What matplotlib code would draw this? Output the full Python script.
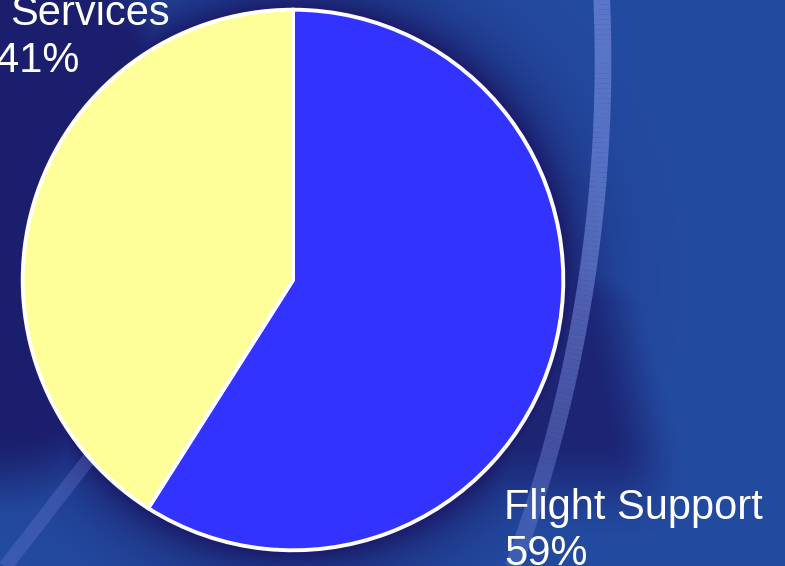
import numpy as np
import matplotlib
matplotlib.use("Agg")
import matplotlib.pyplot as plt
from matplotlib.collections import LineCollection

labels = ["Flight Support", "Services"]
shares = [59, 41]
colors = ["#3333ff", "#ffff99"]

W, H = 785, 566
fig = plt.figure(figsize=(W / 100, H / 100), dpi=100)


def smooth(v):
    v = np.clip(v, 0, 1)
    return v * v * (3 - 2 * v)


r = 273
cx, cy = 293, 280

# background: medium blue with a dark navy top-left, dark halo round the pie
# and a soft dark wedge to the right of it
bg = fig.add_axes([0, 0, 1, 1])
yy, xx = np.mgrid[0:H, 0:W].astype(float)
d_out = np.clip(np.hypot(xx - cx, yy - cy) - r, 0, None)
halo = np.exp(-d_out / 30)
tl = smooth((1 - np.hypot(xx / 240, (yy - 200) / 330)) / 0.3)
edge_x = np.interp(yy, [230, 300, 460, 540], [610, 655, 690, 700])
wedge = 0.85 * (smooth((edge_x - xx) / 80) * smooth((yy - 190) / 90)
                * smooth((545 - yy) / 110) * smooth((xx - 450) / 60))
k = np.maximum.reduce([halo, tl, wedge])
dark = np.array([0x1b, 0x1e, 0x6c]) / 255
light = np.array([0x23, 0x4b, 0xa0]) / 255
img = light[None, None, :] * (1 - k[..., None]) + dark[None, None, :] * k[..., None]
bg.imshow(img, extent=[0, W, H, 0], aspect="auto")

# decorative swoosh stripes
ys = np.linspace(-10, H + 10, 120)
xs = -862 + np.sqrt(1465 ** 2 - (ys - 61) ** 2)
pts = np.column_stack([xs, ys]).reshape(-1, 1, 2)
segs = np.concatenate([pts[:-1], pts[1:]], axis=1)
alphas = np.interp(ys[:-1], [0, 300, 566], [0.65, 0.55, 0.3])
seg_colors = [(0.48, 0.56, 0.88, a) for a in alphas]
bg.add_collection(LineCollection(segs, colors=seg_colors, linewidths=12, capstyle="butt"))
bg.plot([150, -5], [380, 580], color="#7080d8", alpha=0.3, lw=10, solid_capstyle="butt")
bg.set_xlim(0, W)
bg.set_ylim(H, 0)
bg.axis("off")

# pie
ax = fig.add_axes([(cx - r) / W, 1 - (cy + r) / H, 2 * r / W, 2 * r / H])
ax.pie(shares, colors=colors, startangle=90, counterclock=False,
       wedgeprops=dict(edgecolor="white", linewidth=2.8))
ax.set_xlim(-1.01, 1.01)
ax.set_ylim(-1.01, 1.01)
ax.set_aspect("equal")
ax.axis("off")

font = dict(family="Liberation Sans", fontsize=30, color="white", va="baseline", ha="left")
# Flight Support label (bottom right)
fig.text(504 / W, 1 - 519 / H, labels[0], **font)
fig.text(504 / W, 1 - 565 / H, f"{shares[0]}%", **font)
# Services label (top left, partly off canvas)
fig.text(10 / W, 1 - 25 / H, labels[1], **font)
fig.text(-4 / W, 1 - 72 / H, f"{shares[1]}%", **font)

fig.savefig("out.png", dpi=100)
